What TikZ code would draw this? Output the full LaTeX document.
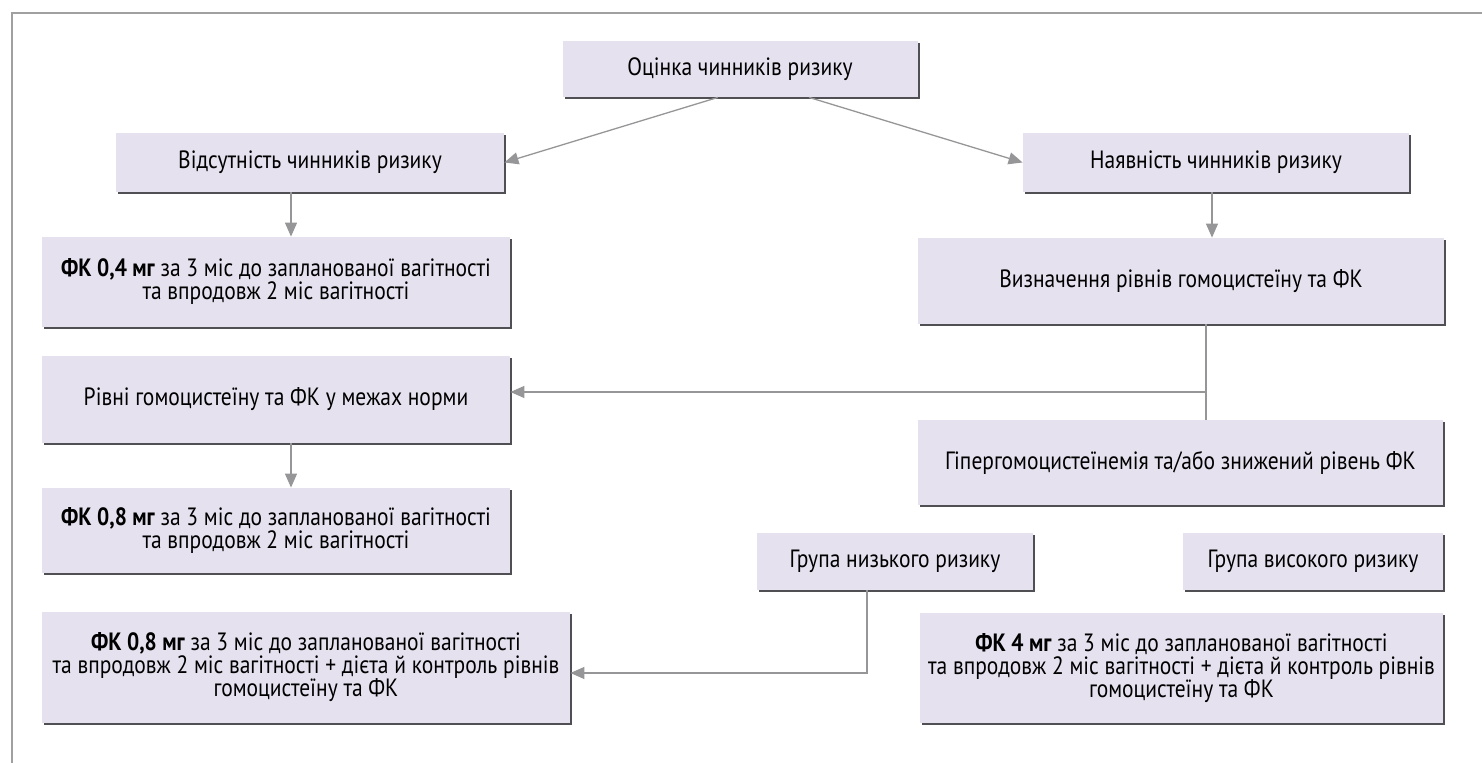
\documentclass[tikz,border=0pt]{standalone}
\usepackage{fontspec}
\setmainfont[FakeStretch=0.86]{PT Sans}
\usetikzlibrary{arrows.meta,shadows}
\definecolor{boxfill}{RGB}{230,225,239}
\definecolor{shade}{RGB}{80,80,84}
\definecolor{wire}{RGB}{150,150,152}
\definecolor{frame}{RGB}{160,160,160}
\begin{document}
\begin{tikzpicture} [
                x=0.5pt, y=-0.5pt,
                box/.style={rectangle,fill=boxfill,align=center,inner sep=0pt,
                    font=\fontsize{12.5}{11.5}\selectfont,
                    drop shadow={shadow xshift=1.1pt,shadow yshift=-1.1pt,fill=shade,opacity=1}},
                line/.style = {draw=wire,line width=0.65pt},
                arr/.style = {line,-{Triangle[length=7pt,width=6pt]}},
            ]
            \useasboundingbox (0,0) rectangle (1482,763);
            % Frame of the figure
            \draw[frame,line width=1pt] (12,763) -- (12,13) -- (1482,13);
            % First we draw the boxes
            \node[box,minimum width=177.5pt,minimum height=28pt] (ocinka) at (740,69) {Оцінка чинників ризику};
            \node[box,minimum width=194pt,minimum height=29.5pt] (vidsut) at (310,162.5) {Відсутність чинників ризику};
            \node[box,minimum width=193pt,minimum height=29.5pt] (nayav) at (1216,162.5) {Наявність чинників ризику};
            \node[box,minimum width=234pt,minimum height=45pt] (fkA) at (276,282)
                {\textbf{ФК 0,4 мг} за 3 міс до запланованої вагітності\\та впродовж 2 міс вагітності};
            \node[box,minimum width=263pt,minimum height=43pt] (vyzn) at (1181,281) {Визначення рівнів гомоцистеїну та ФК};
            \node[box,minimum width=234pt,minimum height=43.5pt] (norma) at (276,399.5) {Рівні гомоцистеїну та ФК у межах норми};
            \node[box,minimum width=262.5pt,minimum height=42.5pt] (hiper) at (1180.5,462.5) {Гіпергомоцистеїнемія та/або знижений рівень ФК};
            \node[box,minimum width=234pt,minimum height=42.5pt] (fkB) at (276,530.5)
                {\textbf{ФК 0,8 мг} за 3 міс до запланованої вагітності\\та впродовж 2 міс вагітності};
            \node[box,minimum width=138pt,minimum height=28.5pt] (nyzk) at (895,561.5) {Група низького ризику};
            \node[box,minimum width=130pt,minimum height=28.5pt] (vysok) at (1313,561.5) {Група високого ризику};
            \node[box,minimum width=264pt,minimum height=55.5pt] (fkC) at (306,667.5)
                {\textbf{ФК 0,8 мг} за 3 міс до запланованої вагітності\\та впродовж 2 міс вагітності + дієта й контроль рівнів\\гомоцистеїну та ФК};
            \node[box,minimum width=261.5pt,minimum height=55pt] (fkD) at (1181.5,668)
                {\textbf{ФК 4 мг} за 3 міс до запланованої вагітності\\та впродовж 2 міс вагітності + дієта й контроль рівнів\\гомоцистеїну та ФК};
            % Bend points of the elbow connectors
            \coordinate (split) at (1206,392);
            \coordinate (bend) at (867,673);
            % Connect the boxes
            \path[arr] ([xshift=-11pt]ocinka.south) -- (vidsut.east);
            \path[arr] ([xshift=34.5pt]ocinka.south) -- (nayav.west);
            \path[arr] ([xshift=-9.5pt]vidsut.south) -- ([xshift=-9.5pt]vidsut.south |- fkA.north);
            \path[arr] ([xshift=-2pt]nayav.south) -- ([xshift=-2pt]nayav.south |- vyzn.north);
            \path[line] (split |- vyzn.south) -- (split |- hiper.north);
            \path[arr] (split) -- (split -| norma.east);
            \path[arr] ([xshift=7.5pt]norma.south) -- ([xshift=7.5pt]norma.south |- fkB.north);
            \path[arr] (bend |- nyzk.south) -- (bend) -- (bend -| fkC.east);
\end{tikzpicture}
\end{document}
